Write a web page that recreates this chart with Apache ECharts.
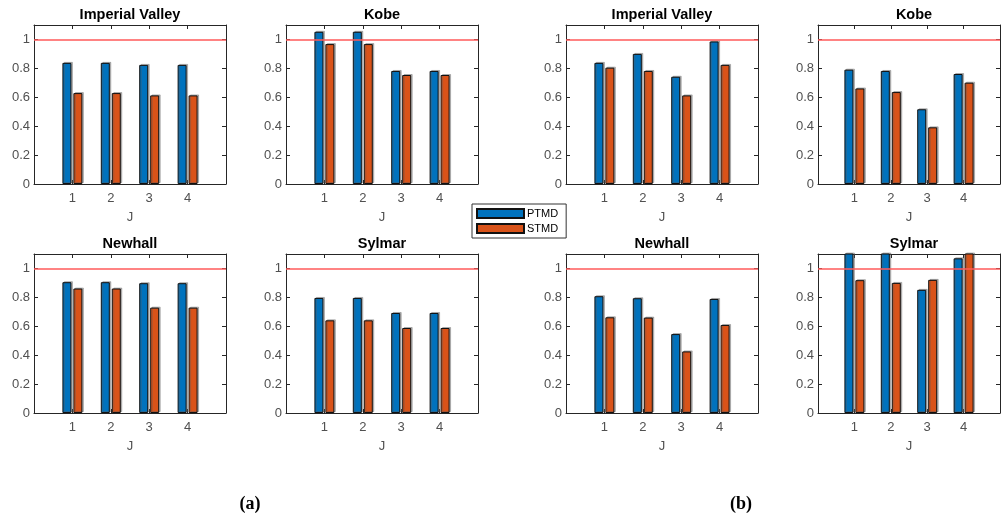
<!DOCTYPE html>
<html>
<head>
<meta charset="utf-8">
<script src="https://cdn.jsdelivr.net/npm/echarts@6/dist/echarts.min.js"></script>
<style>
html,body{margin:0;padding:0;background:#fff;}
#chart{width:1003px;height:518px;}
</style>
</head>
<body>
<div id="chart"></div>
<script>
// ---- data ----
const jValues = [1, 2, 3, 4];
const panelTitles = ['Imperial Valley', 'Kobe', 'Newhall', 'Sylmar'];
const seriesNames = ['PTMD', 'STMD'];
const groupLabels = ['(a)', '(b)'];
const thresholdValue = 1;

const ptmd_a_imperial = [0.838, 0.838, 0.824, 0.824];
const stmd_a_imperial = [0.629, 0.629, 0.613, 0.613];
const ptmd_a_kobe     = [1.053, 1.053, 0.782, 0.782];
const stmd_a_kobe     = [0.968, 0.968, 0.754, 0.754];
const ptmd_a_newhall  = [0.905, 0.905, 0.898, 0.898];
const stmd_a_newhall  = [0.861, 0.861, 0.729, 0.729];
const ptmd_a_sylmar   = [0.796, 0.796, 0.692, 0.692];
const stmd_a_sylmar   = [0.641, 0.641, 0.588, 0.588];

const ptmd_b_imperial = [0.838, 0.900, 0.742, 0.986];
const stmd_b_imperial = [0.805, 0.782, 0.613, 0.824];
const ptmd_b_kobe     = [0.791, 0.782, 0.517, 0.761];
const stmd_b_kobe     = [0.661, 0.636, 0.392, 0.701];
const ptmd_b_newhall  = [0.808, 0.794, 0.546, 0.789];
const stmd_b_newhall  = [0.662, 0.660, 0.426, 0.609];
const ptmd_b_sylmar   = [1.18, 1.16, 0.852, 1.070];
const stmd_b_sylmar   = [0.919, 0.900, 0.921, 1.14];

// ---- layout ----
const panels = [
  {title: panelTitles[0], p: ptmd_a_imperial, s: stmd_a_imperial, left: 34,  top: 25},
  {title: panelTitles[1], p: ptmd_a_kobe,     s: stmd_a_kobe,     left: 286, top: 25},
  {title: panelTitles[0], p: ptmd_b_imperial, s: stmd_b_imperial, left: 566, top: 25},
  {title: panelTitles[1], p: ptmd_b_kobe,     s: stmd_b_kobe,     left: 818, top: 25},
  {title: panelTitles[2], p: ptmd_a_newhall,  s: stmd_a_newhall,  left: 34,  top: 254},
  {title: panelTitles[3], p: ptmd_a_sylmar,   s: stmd_a_sylmar,   left: 286, top: 254},
  {title: panelTitles[2], p: ptmd_b_newhall,  s: stmd_b_newhall,  left: 566, top: 254},
  {title: panelTitles[3], p: ptmd_b_sylmar,   s: stmd_b_sylmar,   left: 818, top: 254}
];
const W = 192, H = 159;
const FONT = '"Liberation Sans", Arial, sans-serif';
const AX = '#262626';
const LBL = '#505050';
const BLUE = '#0072BD', ORANGE = '#D95319';

const grids = [], xAxes = [], yAxes = [], titles = [], series = [];
panels.forEach((pn, i) => {
  grids.push({left: pn.left, top: pn.top, width: W, height: H, containLabel: false});
  titles.push({
    text: pn.title, left: pn.left + W / 2, top: pn.top - 18, textAlign: 'center', padding: 0,
    textStyle: {fontSize: 14.5, fontWeight: 'bold', color: '#000', fontFamily: FONT}
  });
  const xIdx = xAxes.length, yIdx = yAxes.length;
  xAxes.push({
    gridIndex: i, type: 'value', min: 0, max: 5, interval: 1, position: 'bottom',
    axisLine: {show: true, onZero: false, lineStyle: {color: AX, width: 1}},
    axisTick: {show: true, inside: true, length: 4, lineStyle: {color: AX}},
    axisLabel: {show: true, margin: 8, color: LBL, fontSize: 13, fontFamily: FONT,
      formatter: v => (jValues.indexOf(v) >= 0 ? String(v) : '')},
    splitLine: {show: false},
    name: 'J', nameLocation: 'middle', nameGap: 27,
    nameTextStyle: {color: LBL, fontSize: 13, fontFamily: FONT}
  });
  xAxes.push({
    gridIndex: i, type: 'value', min: 0, max: 5, interval: 1, position: 'top',
    axisLine: {show: true, onZero: false, lineStyle: {color: AX, width: 1}},
    axisTick: {show: true, inside: true, length: 4, lineStyle: {color: AX}},
    axisLabel: {show: false}, splitLine: {show: false}
  });
  yAxes.push({
    gridIndex: i, type: 'value', min: 0, max: 1.1, interval: 0.2, position: 'left',
    axisLine: {show: true, onZero: false, lineStyle: {color: AX, width: 1}},
    axisTick: {show: true, inside: true, length: 4, lineStyle: {color: AX}},
    axisLabel: {show: true, margin: 4, color: LBL, fontSize: 13, fontFamily: FONT,
      formatter: v => {
        const k = v * 5;
        if (Math.abs(k - Math.round(k)) > 1e-6 || v > 1.0001) return '';
        return String(Math.round(v * 10) / 10);
      }},
    splitLine: {show: false}
  });
  yAxes.push({
    gridIndex: i, type: 'value', min: 0, max: 1.1, interval: 0.2, position: 'right',
    axisLine: {show: true, onZero: false, lineStyle: {color: AX, width: 1}},
    axisTick: {show: true, inside: true, length: 4, lineStyle: {color: AX}},
    axisLabel: {show: false}, splitLine: {show: false}
  });
  const mk = (name, vals, color, withLine) => {
    const s = {
      name: name, type: 'bar', xAxisIndex: xIdx, yAxisIndex: yIdx,
      data: jValues.map((j, k) => [j, vals[k]]),
      barWidth: 9, barGap: '22%', clip: true,
      itemStyle: {color: color, borderColor: '#111', borderWidth: 1,
        shadowColor: 'rgba(90,90,90,0.4)', shadowOffsetX: 1.5, shadowOffsetY: -1, shadowBlur: 0},
      emphasis: {disabled: true}, animation: false
    };
    if (withLine) {
      s.markLine = {
        silent: true, symbol: ['none', 'none'], label: {show: false},
        lineStyle: {color: '#ff5a5a', width: 1.6, type: 'solid'},
        data: [{yAxis: thresholdValue}], animation: false
      };
    }
    return s;
  };
  series.push(mk(seriesNames[0], pn.p, BLUE, true));
  series.push(mk(seriesNames[1], pn.s, ORANGE, false));
});

const option = {
  backgroundColor: '#fff',
  animation: false,
  title: titles,
  grid: grids,
  xAxis: xAxes,
  yAxis: yAxes,
  series: series,
  legend: {
    data: seriesNames, orient: 'vertical', left: 472, top: 204,
    itemWidth: 47, itemHeight: 9, itemGap: 4, padding: [4, 8, 4, 4],
    borderColor: '#333', borderWidth: 1, backgroundColor: '#fff',
    icon: 'rect',
    textStyle: {color: '#000', fontSize: 11, fontFamily: FONT, padding: [0, 0, 0, -2]},
    selectedMode: false
  },
  graphic: [
    {type: 'text', x: 250, y: 504, silent: true,
      style: {text: groupLabels[0], font: 'bold 18px "Liberation Serif", "Times New Roman", serif',
        fill: '#000', align: 'center', verticalAlign: 'middle'}},
    {type: 'text', x: 741, y: 504, silent: true,
      style: {text: groupLabels[1], font: 'bold 18px "Liberation Serif", "Times New Roman", serif',
        fill: '#000', align: 'center', verticalAlign: 'middle'}}
  ]
};

const chart = echarts.init(document.getElementById('chart'), null, {renderer: 'canvas'});
chart.setOption(option);
</script>
</body>
</html>
